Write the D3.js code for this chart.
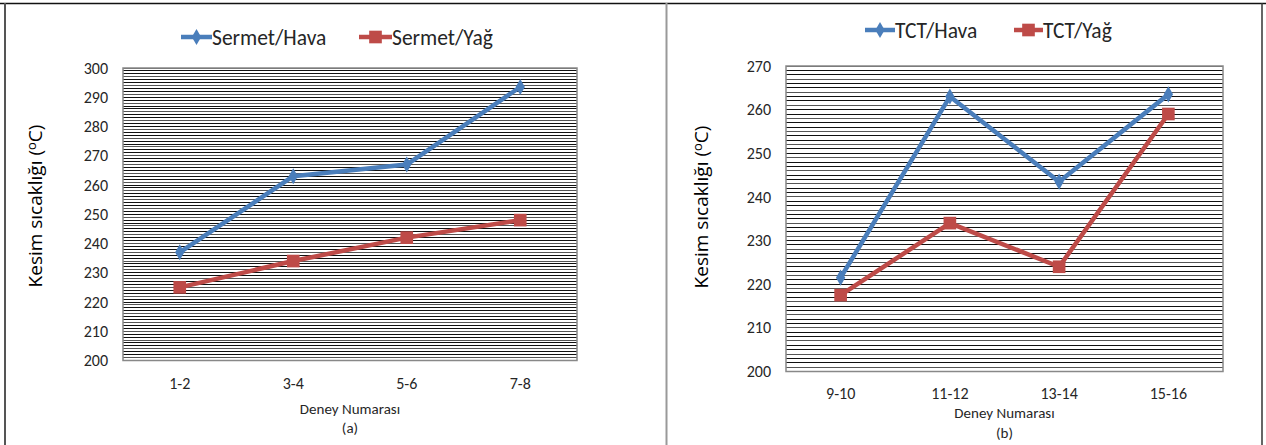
<!DOCTYPE html>
<html>
<head>
<meta charset="utf-8">
<script src="https://cdn.jsdelivr.net/npm/d3@7"></script>
<style>
  html, body { margin: 0; padding: 0; background: #fff; }
  svg { display: block; }
</style>
</head>
<body>
<svg id="chart" width="1266" height="445"></svg>
<script>
// ---- data ----
const catsA = ["1-2", "3-4", "5-6", "7-8"];
const sermetHava = [237, 263, 267, 293.5];
const sermetYag = [225, 234, 242, 248];
const yTicksA = [200, 210, 220, 230, 240, 250, 260, 270, 280, 290, 300];

const catsB = ["9-10", "11-12", "13-14", "15-16"];
const tctHava = [221.5, 263, 243.5, 263.5];
const tctYag = [217.5, 234, 224, 259];
const yTicksB = [200, 210, 220, 230, 240, 250, 260, 270];

const seriesNamesA = ["Sermet/Hava", "Sermet/Yağ"];
const seriesNamesB = ["TCT/Hava", "TCT/Yağ"];
const xTitle = "Deney Numarası";
const yTitle = "Kesim sıcaklığı (";
const subA = "(a)";
const subB = "(b)";

const BLUE = "#4A7EBB";
const RED = "#BE4B48";
const TXT = "#262626";
const FONT = "Carlito, Lato, sans-serif";

const svg = d3.select("#chart");

// frame
svg.append("line").attr("x1", 0).attr("x2", 1266).attr("y1", 3.5).attr("y2", 3.5)
  .attr("stroke", "#111").attr("stroke-width", 1.5);
svg.append("line").attr("x1", 5).attr("x2", 5).attr("y1", 3).attr("y2", 445)
  .attr("stroke", "#555").attr("stroke-width", 2);
svg.append("line").attr("x1", 666.5).attr("x2", 666.5).attr("y1", 3).attr("y2", 445)
  .attr("stroke", "#999").attr("stroke-width", 2);
svg.append("line").attr("x1", 1262).attr("x2", 1262).attr("y1", 3).attr("y2", 445)
  .attr("stroke", "#333").attr("stroke-width", 1.5);

function panel(cfg) {
  const g = svg.append("g");
  const x = d3.scaleBand().domain(cfg.cats).range([cfg.x0, cfg.x1]);
  const y = d3.scaleLinear().domain([cfg.yTicks[0], cfg.yTicks[cfg.yTicks.length - 1]]).range([cfg.y1, cfg.y0]);

  // dense grid every 1 unit
  const grid = d3.range(cfg.yTicks[0], cfg.yTicks[cfg.yTicks.length - 1] + 0.5, 1);
  g.append("g").attr("shape-rendering", "crispEdges")
    .selectAll("line").data(grid).join("line")
    .attr("x1", cfg.x0).attr("x2", cfg.x1)
    .attr("y1", d => y(d)).attr("y2", d => y(d))
    .attr("stroke", (d, i) => i % 3 === 1 ? "#555" : "#111").attr("stroke-width", 1);

  // plot outline
  g.append("rect").attr("x", cfg.x0).attr("y", cfg.y0)
    .attr("width", cfg.x1 - cfg.x0).attr("height", cfg.y1 - cfg.y0)
    .attr("fill", "none").attr("stroke", "#888").attr("stroke-width", 1.5);

  // y axis
  const ya = d3.axisLeft(y).tickValues(cfg.yTicks).tickSize(0).tickPadding(15);
  const yg = g.append("g").attr("transform", `translate(${cfg.x0},0)`).call(ya);
  yg.select(".domain").remove();
  yg.selectAll("text").attr("font-family", FONT)
    .attr("font-size", 16).attr("fill", TXT);

  // x axis
  const xa = d3.axisBottom(x).tickSize(0).tickPadding(cfg.xPad);
  const xg = g.append("g").attr("transform", `translate(0,${cfg.y1})`).call(xa);
  xg.select(".domain").remove();
  xg.selectAll("text").attr("font-family", FONT)
    .attr("font-size", 16).attr("fill", TXT);

  // titles
  g.append("text").attr("x", (cfg.x0 + cfg.x1) / 2).attr("y", cfg.xTitleY)
    .attr("text-anchor", "middle").attr("font-family", FONT)
    .attr("font-size", 15).attr("fill", TXT).text(xTitle);
  g.append("text").attr("x", (cfg.x0 + cfg.x1) / 2).attr("y", cfg.subY)
    .attr("text-anchor", "middle").attr("font-family", FONT)
    .attr("font-size", 15).attr("fill", TXT).text(cfg.sub);

  const yt = g.append("text")
    .attr("transform", `translate(${cfg.yTitleX},${cfg.yTitleY}) rotate(-90)`)
    .attr("text-anchor", "middle").attr("font-family", "'Open Sans', sans-serif")
    .attr("font-size", 19).attr("fill", "#000");
  yt.append("tspan").text(yTitle);
  yt.append("tspan").attr("font-size", 13).attr("dy", -6).text("o");
  yt.append("tspan").attr("dy", 6).text("C)");

  const cx = (c) => x(c) + x.bandwidth() / 2;
  const line = d3.line().x((d, i) => cx(cfg.cats[i])).y(d => y(d));

  const series = [
    { vals: cfg.s1, color: BLUE, marker: "diamond" },
    { vals: cfg.s2, color: RED, marker: "square" }
  ];
  const diamond = d3.symbol().type(d3.symbolDiamond).size(75);
  const square = d3.symbol().type(d3.symbolSquare).size(160);

  series.forEach(s => {
    g.append("path").datum(s.vals).attr("d", line)
      .attr("fill", "none").attr("stroke", s.color).attr("stroke-width", 4.5)
      .attr("stroke-linejoin", "round");
    g.append("g").selectAll("path").data(s.vals).join("path")
      .attr("transform", (d, i) => `translate(${cx(cfg.cats[i])},${y(d)})`)
      .attr("d", s.marker === "diamond" ? diamond : square)
      .attr("fill", s.color);
  });

  // legend
  cfg.legend.forEach((lg, i) => {
    const s = series[i];
    const lgG = g.append("g");
    lgG.append("line").attr("x1", lg.x).attr("x2", lg.x + lg.w)
      .attr("y1", cfg.legendY).attr("y2", cfg.legendY)
      .attr("stroke", s.color).attr("stroke-width", 4.5);
    lgG.append("path")
      .attr("transform", `translate(${lg.x + lg.w / 2},${cfg.legendY})`)
      .attr("d", s.marker === "diamond" ? diamond : square)
      .attr("fill", s.color);
    lgG.append("text").attr("x", lg.x + lg.w).attr("y", cfg.legendY)
      .attr("dy", "0.35em").attr("font-family", FONT)
      .attr("font-size", 21.5).attr("fill", TXT).text(cfg.names[i]);
  });
}

panel({
  cats: catsA, s1: sermetHava, s2: sermetYag, yTicks: yTicksA, names: seriesNamesA,
  x0: 123, x1: 577, y0: 68, y1: 360.5, xPad: 17,
  xTitleY: 414, subY: 433, sub: subA,
  yTitleX: 42, yTitleY: 206,
  legendY: 37, legend: [{ x: 181, w: 31 }, { x: 359, w: 33 }]
});

panel({
  cats: catsB, s1: tctHava, s2: tctYag, yTicks: yTicksB, names: seriesNamesB,
  x0: 786, x1: 1223, y0: 66, y1: 371.5, xPad: 16,
  xTitleY: 418, subY: 438, sub: subB,
  yTitleX: 708, yTitleY: 207,
  legendY: 30, legend: [{ x: 865, w: 30 }, { x: 1014, w: 29 }]
});
</script>
</body>
</html>
